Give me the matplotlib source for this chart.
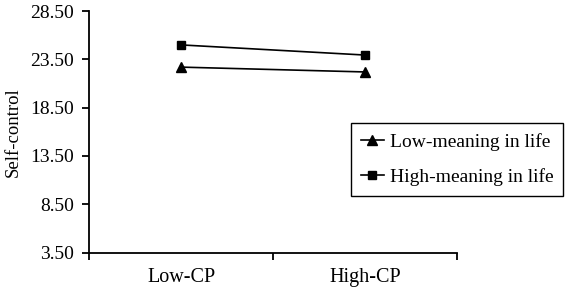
import matplotlib.pyplot as plt

categories = ["Low-CP", "High-CP"]
low_meaning = [22.7, 22.2]
high_meaning = [25.0, 23.95]
y_ticks = [3.5, 8.5, 13.5, 18.5, 23.5, 28.5]

plt.rcParams["font.family"] = ["Liberation Serif", "DejaVu Serif"]
plt.rcParams["font.size"] = 13.5

fig = plt.figure(figsize=(5.67, 2.92), dpi=100)
ax = fig.add_axes([0.157, 0.135, 0.649, 0.827])

x = [0.5, 1.5]
ax.plot(x, low_meaning, color="black", marker="^", markersize=6.5, linewidth=1.2,
        label="Low-meaning in life")
ax.plot(x, high_meaning, color="black", marker="s", markersize=5.5, linewidth=1.2,
        label="High-meaning in life")

ax.set_xlim(0, 2)
ax.set_ylim(3.5, 28.5)
ax.set_yticks(y_ticks)
ax.set_yticklabels([f"{v:.2f}" for v in y_ticks], fontsize=14)
ax.set_xticks([0, 1, 2])
ax.set_xticklabels(["", "", ""])
ax.set_xticks(x, minor=True)
ax.set_xticklabels(categories, minor=True, fontsize=14.5)
ax.tick_params(axis="x", which="minor", length=0, pad=11)
ax.tick_params(axis="both", which="major", length=5, width=1.3, color="black")
ax.tick_params(axis="y", pad=6)
ax.set_ylabel("Self-control", labelpad=6)

for s in ["top", "right"]:
    ax.spines[s].set_visible(False)
for s in ["left", "bottom"]:
    ax.spines[s].set_linewidth(1.3)

leg = ax.legend(loc="upper left", bbox_to_anchor=(0.619, 0.579), bbox_transform=fig.transFigure,
                borderaxespad=0, fancybox=False, edgecolor="black", framealpha=1,
                fontsize=14, borderpad=0.5, handlelength=1.2, handletextpad=0.3,
                labelspacing=0.9)
leg.get_frame().set_linewidth(1.0)

fig.savefig("out.png", dpi=100)
